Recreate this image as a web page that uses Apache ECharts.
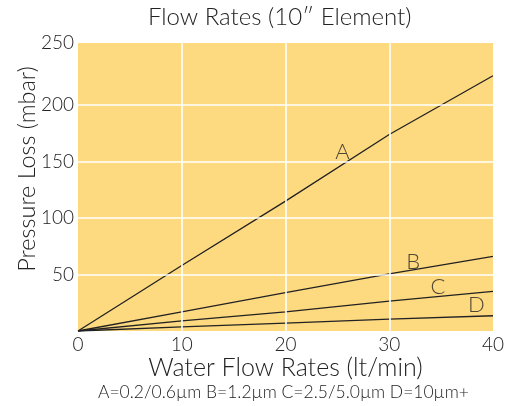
<!DOCTYPE html>
<html><head><meta charset="utf-8">
<script src="https://cdn.jsdelivr.net/npm/echarts@6/dist/echarts.min.js"></script>
<style>html,body{margin:0;padding:0;background:#fff}#c{width:516px;height:406px}</style>
</head><body><div id="c"></div>
<script>
var flowRates = [0, 10, 20, 30, 40];
var seriesA = [0, 58, 115, 174, 226];
var seriesB = [0, 17, 34, 50.5, 66];
var seriesC = [0, 9, 17, 26.5, 35];
var seriesD = [0, 3.6, 7, 10.5, 13.5];
var seriesNames = ['A', 'B', 'C', 'D'];
var labelX = [25.5, 32.3, 34.7, 38.4];
var labelY = [159, 61, 39, 23];
var gridY = [50, 100, 150, 200];
var gridX = [10, 20, 30];
var yTickLabels = [50, 100, 150, 200];
var titleText = 'Flow Rates (10\u2033 Element)';
var footText = 'A=0.2/0.6\u00b5m B=1.2\u00b5m C=2.5/5.0\u00b5m D=10\u00b5m+';

var FONT = 'Lato';
var FW = 300;
var TXT = '#222';
function pairs(ys){ return flowRates.map(function(x,i){return [x, ys[i]];}); }
var allY = [seriesA, seriesB, seriesC, seriesD];
var series = allY.map(function(ys, i){
  return {type:'line', name: seriesNames[i], data: pairs(ys), showSymbol:false, symbol:'none',
    lineStyle:{color:'#222', width:1.3}, z:3, silent:true};
});
series[0].markLine = {
  silent:true, symbol:'none', label:{show:false}, animation:false,
  lineStyle:{color:'#fff', width:1.6, type:'solid'},
  data: gridY.map(function(v){return {yAxis:v};}).concat(gridX.map(function(v){return {xAxis:v};}))
};
series.push({type:'scatter', symbolSize:0, z:4, silent:true,
  data: seriesNames.map(function(n,i){return {name:n, value:[labelX[i], labelY[i]]};}),
  label:{show:true, position:'inside', formatter:'{b}', fontFamily:FONT, fontWeight:FW, fontSize:22, color:TXT}
});
var chart = echarts.init(document.getElementById('c'));
chart.setOption({
  animation:false,
  title:[
    {text:titleText, left:148, top:5, padding:0, textStyle:{fontFamily:FONT, fontWeight:FW, fontSize:24, color:TXT}},
    {text:footText, left:98, top:383, padding:0, textStyle:{fontFamily:FONT, fontWeight:FW, fontSize:17.5, color:TXT}}
  ],
  grid:{left:78, right:23, top:43, bottom:75, show:true, backgroundColor:'#FDD980', borderWidth:0},
  xAxis:{type:'value', min:0, max:40, interval:10,
    name:'Water Flow Rates (lt/min)', nameLocation:'middle', nameGap:24, nameMoveOverlap:false,
    nameTextStyle:{fontFamily:FONT, fontWeight:FW, fontSize:25, color:TXT},
    axisLine:{show:false}, axisTick:{show:false}, splitLine:{show:false},
    axisLabel:{margin:4, fontFamily:FONT, fontWeight:FW, fontSize:19, color:TXT}},
  yAxis:[
    {type:'value', min:0, max:255, interval:50,
    name:'Pressure Loss (mbar)', nameLocation:'middle', nameGap:39, nameMoveOverlap:false,
    nameTextStyle:{fontFamily:FONT, fontWeight:FW, fontSize:23.5, color:TXT, padding:[0,0,0,36]},
    axisLine:{show:false}, axisTick:{show:false}, splitLine:{show:false},
    axisLabel:{margin:4, fontFamily:FONT, fontWeight:FW, fontSize:19, color:TXT,
      formatter:function(v){return yTickLabels.indexOf(v) >= 0 ? String(v) : '';}}},
    {type:'value', min:0, max:250, interval:250, position:'left',
    axisLine:{show:false}, axisTick:{show:false}, splitLine:{show:false},
    axisLabel:{margin:4, fontFamily:FONT, fontWeight:FW, fontSize:19, color:TXT,
      formatter:function(v){return v===250?'250':'';}}}
  ],
  series: series
});
</script></body></html>
